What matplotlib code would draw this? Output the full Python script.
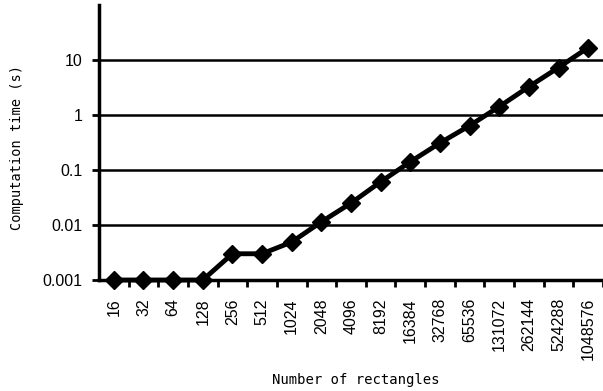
import matplotlib
matplotlib.use("Agg")
import matplotlib.pyplot as plt
import numpy as np

categories = ["16", "32", "64", "128", "256", "512", "1024", "2048", "4096", "8192",
              "16384", "32768", "65536", "131072", "262144", "524288", "1048576"]
times = [0.001, 0.001, 0.001, 0.001, 0.003, 0.003, 0.0049, 0.0114, 0.025, 0.061,
         0.141, 0.31, 0.64, 1.42, 3.27, 7.3, 16.8]
ytick_vals = [0.001, 0.01, 0.1, 1, 10]
ytick_labels = ["0.001", "0.01", "0.1", "1", "10"]

fig = plt.figure(figsize=(6.03, 3.91), dpi=100)
ax = fig.add_axes([99/603, 1-280/391, 1-99/603, 275/391])

x = np.arange(len(categories))
ax.plot(x, times, color="black", lw=3.5, marker="D", markersize=9, zorder=3, clip_on=False)

ax.set_yscale("log")
ax.set_ylim(0.001, 100)
ax.set_xlim(-0.5, len(categories) - 0.5)
ax.set_yticks(ytick_vals)
ax.set_yticklabels(ytick_labels, fontsize=11.5, family="Liberation Sans")
ax.yaxis.set_minor_locator(matplotlib.ticker.NullLocator())
for v in ytick_vals[1:]:
    ax.axhline(v, color="black", lw=1.8, zorder=1)

ax.set_xticks(x)
ax.set_xticklabels(categories, rotation=90, fontsize=11.5, family="Liberation Sans")
ax.tick_params(axis="x", which="major", length=0, pad=13)
ax.set_xticks(np.arange(len(categories)) + 0.5, minor=True)
ax.tick_params(axis="x", which="minor", length=5, width=2, direction="out")
ax.tick_params(axis="y", length=5, width=2, direction="out", pad=7)

for s in ["top", "right"]:
    ax.spines[s].set_visible(False)
for s in ["left", "bottom"]:
    ax.spines[s].set_linewidth(2.5)

ax.set_ylabel("Computation time (s)", fontsize=9.8, family="DejaVu Sans Mono", labelpad=0)
ax.yaxis.set_label_coords((24-99)/504, (280-148)/275)
ax.set_xlabel("Number of rectangles", fontsize=10, family="DejaVu Sans Mono")
ax.xaxis.set_label_coords((355.5-99)/504, -(373-280)/275)

fig.savefig("out.png", dpi=100)
